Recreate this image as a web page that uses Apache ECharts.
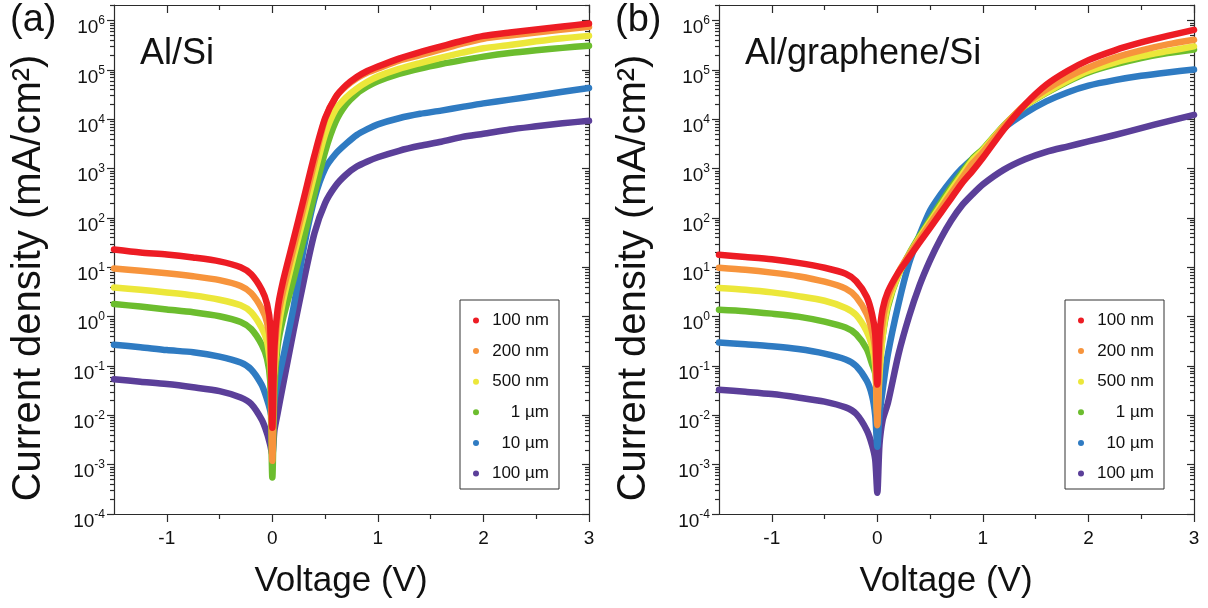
<!DOCTYPE html>
<html>
<head>
<meta charset="utf-8">
<script src="https://cdn.jsdelivr.net/npm/echarts@6/dist/echarts.min.js"></script>
<style>
  html, body { margin: 0; padding: 0; background: #fff; }
  #chart { width: 1208px; height: 608px; }
</style>
</head>
<body>
<div id="chart"></div>
<script>
// Bias voltage (V) shared by every J-V sweep
const voltage = [-1.5, -1.25, -1.0, -0.75, -0.5, -0.3, -0.2, -0.1, -0.05, -0.02, 0,
  0.02, 0.05, 0.1, 0.2, 0.3, 0.4, 0.5, 0.6, 0.7, 0.8, 0.9, 1.0, 1.2, 1.4, 1.6, 1.8,
  2.0, 2.25, 2.5, 2.75, 3.0];

// Contact sizes (legend entries) and their colours
const sizes = ['100 nm', '200 nm', '500 nm', '1 µm', '10 µm', '100 µm'];
const colors = ['#ED1C24', '#F7943C', '#ECE73A', '#6CBD2E', '#2F7BC2', '#5B3F99'];

// |J| in mA/cm², Al/Si contacts
const alSi100nm = [23, 20, 18.2, 15.8, 13.2, 10, 7.2, 3.5, 1.8, 0.65, 0.0056,
  0.25, 1.4, 5.1, 36, 260, 1900, 1.05e4, 2.8e4, 4.9e4, 7.2e4, 9.5e4, 1.17e5, 1.7e5,
  2.3e5, 3.0e5, 3.9e5, 4.9e5, 5.75e5, 6.6e5, 7.6e5, 8.7e5];
const alSi200nm = [9.5, 8.5, 7.6, 6.6, 5.5, 4.2, 3.0, 1.45, 0.76, 0.27, 0.0012,
  0.13, 0.89, 3.2, 24, 180, 1400, 1.0e4, 2.8e4, 4.7e4, 6.8e4, 8.9e4, 1.07e5, 1.55e5,
  2.0e5, 2.6e5, 3.4e5, 4.3e5, 5.0e5, 5.75e5, 6.6e5, 7.5e5];
const alSi500nm = [3.9, 3.5, 3.1, 2.7, 2.2, 1.7, 1.23, 0.59, 0.31, 0.11, 0.046,
  0.079, 0.45, 2.0, 16, 110, 790, 5000, 1.58e4, 2.8e4, 4.2e4, 5.75e4, 7.4e4, 1.05e5,
  1.38e5, 1.78e5, 2.24e5, 2.75e5, 3.2e5, 3.8e5, 4.4e5, 4.9e5];
const alSi1um = [1.8, 1.6, 1.4, 1.23, 1.02, 0.78, 0.56, 0.27, 0.14, 0.05, 5.5e-4,
  0.032, 0.25, 0.89, 5.6, 40, 320, 2200, 8900, 2.0e4, 3.3e4, 4.6e4, 5.9e4, 8.3e4,
  1.07e5, 1.32e5, 1.58e5, 1.86e5, 2.2e5, 2.5e5, 2.8e5, 3.1e5];
const alSi10um = [0.27, 0.24, 0.21, 0.19, 0.155, 0.117, 0.085, 0.041, 0.021, 0.0126, 0.0079,
  0.02, 0.045, 0.14, 1.5, 26, 250, 1000, 2000, 3200, 4800, 6300, 7900, 1.05e4,
  1.29e4, 1.5e4, 1.78e4, 2.1e4, 2.5e4, 3.0e4, 3.6e4, 4.3e4];
const alSi100um = [0.054, 0.048, 0.043, 0.037, 0.031, 0.023, 0.017, 0.0081, 0.0043, 0.0025, 0.0016,
  0.005, 0.011, 0.04, 0.5, 5.6, 50, 200, 450, 760, 1100, 1400, 1700, 2300,
  2900, 3500, 4400, 5100, 6200, 7200, 8300, 9300];

// |J| in mA/cm², Al/graphene/Si contacts
const alGr100nm = [18, 16.2, 14.5, 12.3, 9.8, 7.4, 5.2, 2.5, 1.12, 0.45, 0.042,
  0.4, 1.4, 3.2, 7.9, 15.8, 32, 63, 126, 250, 500, 890, 1660, 6300,
  2.0e4, 5.0e4, 9.5e4, 1.58e5, 2.5e5, 3.6e5, 4.9e5, 6.5e5];
const alGr200nm = [9.8, 8.9, 7.8, 6.6, 5.1, 3.7, 2.5, 1.12, 0.5, 0.2, 0.0063,
  0.16, 0.79, 2.5, 7.9, 17.8, 37, 76, 155, 316, 630, 1260, 2140, 7200,
  2.0e4, 4.0e4, 7.1e4, 1.12e5, 1.78e5, 2.5e5, 3.3e5, 4.1e5];
const alGr500nm = [3.8, 3.5, 3.1, 2.6, 2.1, 1.5, 1.07, 0.5, 0.25, 0.1, 0.01,
  0.063, 0.4, 1.78, 7.1, 17.8, 40, 85, 178, 370, 740, 1480, 2400, 7400,
  1.9e4, 3.5e4, 6.0e4, 9.5e4, 1.41e5, 1.9e5, 2.4e5, 3.0e5];
const alGr1um = [1.38, 1.29, 1.15, 1.0, 0.79, 0.6, 0.44, 0.22, 0.11, 0.071, 0.032,
  0.1, 0.4, 1.58, 7.1, 18.6, 43, 93, 200, 420, 830, 1580, 2500, 7600,
  1.86e4, 3.4e4, 5.75e4, 8.9e4, 1.29e5, 1.74e5, 2.2e5, 2.6e5];
const alGr10um = [0.3, 0.275, 0.25, 0.22, 0.178, 0.135, 0.1, 0.05, 0.025, 0.01, 0.0023,
  0.01, 0.032, 0.174, 1.78, 12, 45, 141, 300, 575, 1000, 1580, 2400, 6600,
  1.32e4, 2.3e4, 3.5e4, 4.8e4, 6.2e4, 7.6e4, 8.9e4, 1.02e5];
const alGr100um = [0.033, 0.03, 0.027, 0.023, 0.019, 0.0145, 0.0107, 0.005, 0.0025, 0.00126, 0.00027,
  0.0025, 0.0079, 0.0178, 0.17, 1.0, 4.3, 14, 38, 89, 178, 300, 480, 955,
  1550, 2190, 2800, 3550, 4800, 6600, 9100, 1.23e4];

// Axis ticks
const xMajor = [-1, 0, 1, 2, 3];
const xMinor = [-0.5, 0.5, 1.5, 2.5];
const yDecades = [1e-4, 1e-3, 1e-2, 1e-1, 1, 1e1, 1e2, 1e3, 1e4, 1e5, 1e6];
const yMultipliers = [2, 3, 4, 5, 6, 7, 8, 9];
const xRange = [-1.5, 3];
const yRange = [1e-4, 2.07e6];

const panels = [
  { label: '(a)', title: 'Al/Si', curves: [alSi100nm, alSi200nm, alSi500nm, alSi1um, alSi10um, alSi100um] },
  { label: '(b)', title: 'Al/graphene/Si', curves: [alGr100nm, alGr200nm, alGr500nm, alGr1um, alGr10um, alGr100um] }
];

const yMinor = [];
yDecades.forEach(d => yMultipliers.forEach(m => {
  const v = m * d;
  if (v <= yRange[1]) yMinor.push(v);
}));

const FONT = '"Liberation Sans", Arial, Helvetica, sans-serif';
const AXIS = '#2b2b2b';
const PANEL_SHIFT = 605;
const grids = [], xAxes = [], yAxes = [], series = [], legends = [], graphics = [];

panels.forEach((p, g) => {
  const dx = g * PANEL_SHIFT;
  grids.push({ left: 114 + dx, top: 5, width: 475, height: 509, outerBoundsMode: 'none' });

  const line = { show: true, onZero: false, lineStyle: { color: AXIS, width: 1.2 } };
  const noLine = { show: false, onZero: false };
  const tk = (vals, len, inside) => ({ show: true, customValues: vals, length: len, inside: inside,
    lineStyle: { color: AXIS, width: 1.2 } });

  const xb = { type: 'value', gridIndex: g, min: xRange[0], max: xRange[1], splitLine: { show: false } };
  xAxes.push(
    Object.assign({}, xb, { position: 'bottom', axisLine: line, axisTick: tk(xMajor, 8, false),
      axisLabel: { customValues: xMajor, fontSize: 19, color: '#111', margin: 15, fontFamily: FONT } }),
    Object.assign({}, xb, { position: 'bottom', axisLine: noLine, axisTick: tk(xMinor, 5, false), axisLabel: { show: false } }),
    Object.assign({}, xb, { position: 'top', axisLine: line, axisTick: tk(xMajor, 8, true), axisLabel: { show: false } }),
    Object.assign({}, xb, { position: 'top', axisLine: noLine, axisTick: tk(xMinor, 5, true), axisLabel: { show: false } })
  );

  const yb = { type: 'log', logBase: 10, gridIndex: g, min: yRange[0], max: yRange[1], splitLine: { show: false } };
  yAxes.push(
    Object.assign({}, yb, { position: 'left', axisLine: line, axisTick: tk(yDecades, 7, false),
      axisLabel: {
        customValues: yDecades, fontSize: 19, color: '#111', margin: 9, fontFamily: FONT,
        lineHeight: 26, padding: [15, 0, 0, 0],
        formatter: v => '10{s|' + Math.round(Math.log10(v)) + '}',
        rich: { s: { fontSize: 12, lineHeight: 12, verticalAlign: 'top', fontFamily: FONT, color: '#111' } }
      } }),
    Object.assign({}, yb, { position: 'left', axisLine: noLine, axisTick: tk(yMinor, 4, false), axisLabel: { show: false } }),
    Object.assign({}, yb, { position: 'right', axisLine: line, axisTick: tk(yDecades, 7, true), axisLabel: { show: false } }),
    Object.assign({}, yb, { position: 'right', axisLine: noLine, axisTick: tk(yMinor, 4, true), axisLabel: { show: false } })
  );

  // draw the largest contact first so the 100 nm sweep sits on top
  for (let i = sizes.length - 1; i >= 0; i--) {
    const vals = p.curves[i];
    series.push({
      type: 'line', name: sizes[i], xAxisIndex: g * 4, yAxisIndex: g * 4,
      data: voltage.map((v, k) => [v, vals[k]]),
      showSymbol: false, symbol: 'circle', smooth: 0.25, clip: false,
      color: colors[i],
      lineStyle: { width: 6.5, color: colors[i], cap: 'round', join: 'round' },
      emphasis: { disabled: true }
    });
  }

  legends.push({
    orient: 'vertical', left: 460 + dx, top: 300,
    data: sizes.slice(), icon: 'circle', itemWidth: 6, itemHeight: 6, itemGap: 13.6,
    padding: [12, 10, 7, 13], borderColor: '#333', borderWidth: 1, selectedMode: false,
    itemStyle: { borderWidth: 0 },
    formatter: n => '{t|' + n + '}',
    textStyle: { rich: { t: { width: 65, align: 'right', fontSize: 17, lineHeight: 18, color: '#111', fontFamily: FONT } } }
  });

  graphics.push(
    { type: 'text', left: 10 + dx, top: 2, style: { text: p.label, font: '38px ' + FONT, fill: '#111' } },
    { type: 'text', left: 140 + dx, top: 36, style: { text: p.title, font: '36px ' + FONT, fill: '#111' } },
    { type: 'text', x: 29 + dx, y: 278, rotation: Math.PI / 2,
      style: { text: 'Current density (mA/cm²)', font: '40px ' + FONT, fill: '#111', align: 'center', verticalAlign: 'middle' } },
    { type: 'text', x: 341 + dx, y: 581,
      style: { text: 'Voltage (V)', font: '35px ' + FONT, fill: '#111', align: 'center', verticalAlign: 'middle' } }
  );
});

const chart = echarts.init(document.getElementById('chart'), null, { renderer: 'canvas' });
chart.setOption({
  animation: false,
  backgroundColor: '#fff',
  textStyle: { fontFamily: FONT },
  grid: grids,
  xAxis: xAxes,
  yAxis: yAxes,
  legend: legends,
  series: series,
  graphic: graphics
});
</script>
</body>
</html>
